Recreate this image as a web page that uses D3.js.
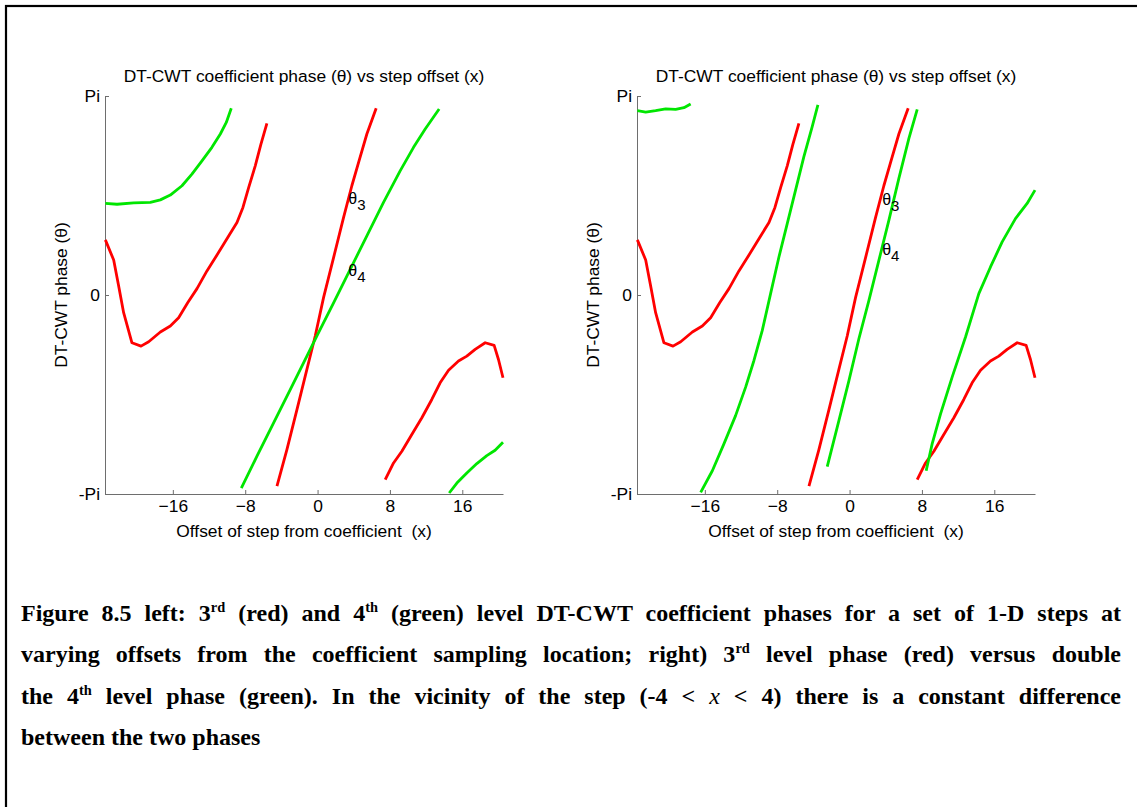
<!DOCTYPE html>
<html>
<head>
<meta charset="utf-8">
<script src="https://cdn.jsdelivr.net/npm/d3@7"></script>
<style>
  body { margin: 0; background: #fff; }
  #fig { position: relative; width: 1137px; height: 807px; overflow: hidden; }
  #fig svg { position: absolute; left: 0; top: 0; }
  .cap { position: absolute; left: 21px; white-space: pre; font-family: "Liberation Serif", "Times New Roman", serif;
         font-weight: bold; font-size: 24px; line-height: 24px; color: #000; }
  .cap sup { font-size: 0.6em; line-height: 0; vertical-align: 0.6em; }
  .cap i { font-weight: normal; }
</style>
</head>
<body>
<div id="fig"></div>
<script>
// eje x (desplazamiento del escalon) y eje y (fase en unidades de pi)
var xDomain = [-23.5, 20.5];
var xTicks = [-16, -8, 0, 8, 16];
var yTicks = [-1, 0, 1];
var yTickLabels = ["-Pi", "0", "Pi"];

// fase del nivel 3 (rojo), igual en los dos graficos
var redA_x = [-23.46, -22.54, -21.99, -21.44, -20.52, -19.52, -18.67, -17.38, -16.28, -15.36, -14.36, -13.33, -12.23, -11.12, -9.83, -8.91, -8.25, -7.62, -6.89, -6.26, -5.60];
var redA_y = [0.277, 0.176, 0.045, -0.089, -0.240, -0.257, -0.235, -0.186, -0.156, -0.114, -0.039, 0.032, 0.121, 0.201, 0.297, 0.364, 0.440, 0.540, 0.649, 0.758, 0.862];
var redB_x = [-4.49, -3.39, -2.28, -1.18, -0.26, 0.66, 1.77, 2.87, 3.79, 4.64, 5.45, 6.48];
var redB_y = [-0.961, -0.777, -0.576, -0.374, -0.206, -0.013, 0.188, 0.389, 0.549, 0.683, 0.809, 0.938];
var redC_x = [7.48, 8.40, 9.32, 10.42, 11.53, 12.63, 13.55, 14.48, 15.58, 16.50, 17.42, 18.53, 19.52, 20.0, 20.5];
var redC_y = [-0.928, -0.844, -0.785, -0.701, -0.617, -0.525, -0.441, -0.378, -0.332, -0.307, -0.273, -0.240, -0.253, -0.324, -0.416];

// fase del nivel 4 (verde, grafico izquierdo)
var g4A_x = [-23.46, -22.17, -20.33, -18.49, -17.38, -16.28, -14.99, -13.89, -12.78, -11.68, -10.75, -10.09, -9.54];
var g4A_y = [0.460, 0.456, 0.463, 0.465, 0.478, 0.502, 0.549, 0.607, 0.674, 0.742, 0.809, 0.867, 0.938];
var g4B_x = [-8.43, -6.70, -4.86, -3.02, -1.18, -0.07, 1.77, 3.61, 5.45, 7.29, 9.13, 10.61, 11.90, 13.44];
var g4B_y = [-0.970, -0.810, -0.643, -0.475, -0.307, -0.206, -0.039, 0.129, 0.297, 0.465, 0.624, 0.742, 0.834, 0.935];
var g4C_x = [14.55, 15.40, 16.50, 17.61, 18.71, 19.63, 20.5];
var g4C_y = [-0.995, -0.945, -0.894, -0.847, -0.807, -0.780, -0.740];

// doble de la fase del nivel 4 (verde, grafico derecho)
var g8A_x = [-23.46, -22.54, -21.44, -20.33, -19.23, -18.31, -17.57];
var g8A_y = [0.926, 0.919, 0.926, 0.935, 0.933, 0.941, 0.960];
var g8B_x = [-16.46, -15.17, -13.89, -12.60, -11.49, -10.57, -9.65, -8.73, -7.81, -6.89, -5.97, -5.05, -4.13, -3.50];
var g8B_y = [-0.992, -0.883, -0.748, -0.606, -0.463, -0.329, -0.178, 0.007, 0.191, 0.359, 0.527, 0.695, 0.846, 0.955];
var g8C_x = [-2.47, -1.18, -0.07, 1.03, 2.14, 3.24, 4.35, 5.45, 6.56, 7.48];
var g8C_y = [-0.862, -0.631, -0.430, -0.220, -0.027, 0.174, 0.376, 0.586, 0.787, 0.933];
var g8D_x = [8.47, 9.13, 10.06, 11.34, 12.82, 14.29, 15.58, 16.87, 18.34, 19.63, 20.5];
var g8D_y = [-0.883, -0.748, -0.597, -0.413, -0.211, 0.007, 0.141, 0.267, 0.384, 0.460, 0.527];

// etiquetas theta3 / theta4 (coordenadas de datos)
var labelsLeft = [[3.4, 0.455, "3"], [3.4, 0.094, "4"]];
var labelsRight = [[3.6, 0.45, "3"], [3.6, 0.2, "4"]];

var titleText = "DT-CWT coefficient phase (\u03B8) vs step offset (x)";
var xLabelText = "Offset of step from coefficient  (x)";
var yLabelText = "DT-CWT phase (\u03B8)";

var captionLines = [
  "Figure 8.5 left: 3<sup>rd</sup> (red) and 4<sup>th</sup> (green) level DT-CWT coefficient phases for a set of 1-D steps at",
  "varying offsets from the coefficient sampling location; right) 3<sup>rd</sup> level phase (red) versus double",
  "the 4<sup>th</sup> level phase (green). In the vicinity of the step (-4 &lt; <i>x</i> &lt; 4) there is a constant difference",
  "between the two phases"
];

var vis = {
  width: 1137, height: 807,
  top: 96, bottom: 494,
  plotWidth: 398,
  lefts: [105, 637],
  red: "#ff0000", green: "#00e600",
  axisColor: "#6e6e6e",
  font: "'Liberation Sans', Arial, sans-serif",
  fontSize: "17.4px"
};

var fig = d3.select("#fig");
var svg = fig.append("svg").attr("width", vis.width).attr("height", vis.height);

// marco negro
svg.append("rect")
  .attr("x", 6).attr("y", 6)
  .attr("width", vis.width + 20).attr("height", vis.height + 20)
  .attr("fill", "none").attr("stroke", "#000").attr("stroke-width", 2.2);

var y = d3.scaleLinear().domain([-1, 1]).range([vis.bottom, vis.top]);

function toPoints(xs, ys) { return d3.zip(xs, ys); }

var panels = [
  { greens: [[g4A_x, g4A_y], [g4B_x, g4B_y], [g4C_x, g4C_y]], labels: labelsLeft },
  { greens: [[g8A_x, g8A_y], [g8B_x, g8B_y], [g8C_x, g8C_y], [g8D_x, g8D_y]], labels: labelsRight }
];
var reds = [[redA_x, redA_y], [redB_x, redB_y], [redC_x, redC_y]];

panels.forEach(function(p, i) {
  var left = vis.lefts[i];
  var x = d3.scaleLinear().domain(xDomain).range([left, left + vis.plotWidth]);
  var g = svg.append("g").style("font-family", vis.font);

  // eje x
  var xAxis = g.append("g")
    .attr("transform", "translate(0," + vis.bottom + ")")
    .call(d3.axisBottom(x).tickValues(xTicks).tickSizeInner(-4).tickSizeOuter(0).tickPadding(6));
  // eje y
  var yAxis = g.append("g")
    .attr("transform", "translate(" + left + ",0)")
    .call(d3.axisLeft(y).tickValues(yTicks).tickSizeInner(-4).tickSizeOuter(0).tickPadding(5)
      .tickFormat(function(d, k) { return yTickLabels[k]; }));
  [xAxis, yAxis].forEach(function(a) {
    a.select(".domain").attr("stroke", vis.axisColor);
    a.selectAll(".tick line").attr("stroke", vis.axisColor);
    a.selectAll(".tick text").attr("fill", "#000").style("font-size", vis.fontSize).style("font-family", vis.font);
  });

  var line = d3.line().x(function(d) { return x(d[0]); }).y(function(d) { return y(d[1]); });

  g.selectAll("path.red")
    .data(reds)
    .enter()
    .append("path")
    .attr("class", "red")
    .attr("d", function(s) { return line(toPoints(s[0], s[1])); })
    .attr("fill", "none").attr("stroke", vis.red).attr("stroke-width", 2.8)
    .attr("stroke-linejoin", "round");

  g.selectAll("path.green")
    .data(p.greens)
    .enter()
    .append("path")
    .attr("class", "green")
    .attr("d", function(s) { return line(toPoints(s[0], s[1])); })
    .attr("fill", "none").attr("stroke", vis.green).attr("stroke-width", 2.8)
    .attr("stroke-linejoin", "round");

  // etiquetas theta
  var lab = g.selectAll("text.theta")
    .data(p.labels)
    .enter()
    .append("text")
    .attr("class", "theta")
    .attr("x", function(d) { return x(d[0]); })
    .attr("y", function(d) { return y(d[1]); })
    .style("font-size", "16px");
  lab.append("tspan").text("\u03B8");
  lab.append("tspan").attr("dy", 6).style("font-size", "15px").text(function(d) { return d[2]; });

  // titulo
  g.append("text")
    .attr("x", left + vis.plotWidth / 2).attr("y", 82)
    .attr("text-anchor", "middle").style("font-size", vis.fontSize)
    .text(titleText);
  // etiqueta x
  g.append("text")
    .attr("x", left + vis.plotWidth / 2).attr("y", 537)
    .attr("text-anchor", "middle").style("font-size", vis.fontSize)
    .attr("xml:space", "preserve").style("white-space", "pre")
    .text(xLabelText);
  // etiqueta y
  g.append("text")
    .attr("transform", "translate(" + (left - 38) + "," + ((vis.top + vis.bottom) / 2) + ") rotate(-90)")
    .attr("text-anchor", "middle").style("font-size", vis.fontSize)
    .text(yLabelText);
});

// pie de figura, justificado a mano
var capWidth = 1100;
captionLines.forEach(function(html, i) {
  var div = fig.append("div").attr("class", "cap")
    .style("top", (601 + i * 41.3) + "px")
    .html(html);
  if (i < captionLines.length - 1) {
    var w = div.node().getBoundingClientRect().width;
    var spaces = (div.node().textContent.match(/ /g) || []).length;
    div.style("word-spacing", ((capWidth - w) / spaces) + "px");
  }
});
</script>
</body>
</html>
